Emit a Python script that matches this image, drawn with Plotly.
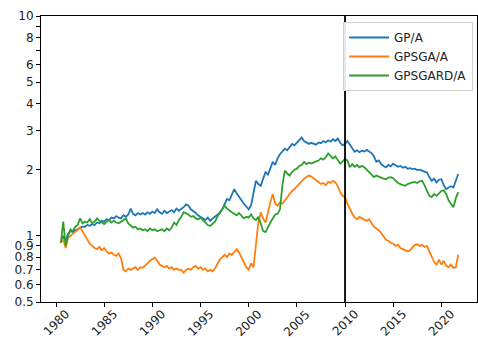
import numpy as np
import plotly.graph_objects as go

# Quarterly observations, 1980Q3 .. 2021Q4 (decimal years)
quarters = np.arange(1980.5, 2021.76, 0.25)

gp_a = [
    0.93, 1.00,
    0.95, 1.02, 1.05, 1.04,
    1.06, 1.07, 1.09, 1.10,
    1.10, 1.12, 1.11, 1.13,
    1.12, 1.15, 1.14, 1.17,
    1.16, 1.19, 1.18, 1.21,
    1.20, 1.23, 1.21, 1.20,
    1.24, 1.22, 1.25, 1.33,
    1.26, 1.24, 1.27, 1.25,
    1.27, 1.25, 1.28, 1.26,
    1.29, 1.27, 1.32, 1.28,
    1.26, 1.30, 1.27, 1.29,
    1.31, 1.28, 1.33, 1.30,
    1.32, 1.35, 1.39, 1.37,
    1.32, 1.30, 1.27, 1.24,
    1.22, 1.20, 1.18, 1.21,
    1.17, 1.20, 1.22, 1.25,
    1.27, 1.32, 1.40, 1.47,
    1.45, 1.55, 1.63, 1.56,
    1.50, 1.44, 1.40, 1.36,
    1.32, 1.38, 1.55, 1.78,
    1.72, 1.69, 1.82, 1.95,
    1.90, 2.05, 2.17, 2.10,
    2.25, 2.35, 2.42, 2.49,
    2.45, 2.55, 2.62, 2.58,
    2.65, 2.72, 2.80, 2.70,
    2.66, 2.62, 2.65, 2.63,
    2.60, 2.66, 2.64, 2.70,
    2.66, 2.72, 2.68, 2.75,
    2.70, 2.77, 2.65, 2.58,
    2.62, 2.70, 2.60, 2.50,
    2.41, 2.45, 2.40, 2.44,
    2.42, 2.46, 2.41, 2.38,
    2.30, 2.17, 2.20, 2.12,
    2.08, 2.05, 2.10, 2.07,
    2.13, 2.09, 2.06, 2.08,
    2.04, 2.06, 2.02, 2.03,
    2.01, 2.02, 1.99, 2.00,
    1.98, 1.96, 1.94, 1.85,
    1.78, 1.82, 1.75, 1.80,
    1.81, 1.70, 1.63, 1.66,
    1.68, 1.66, 1.78, 1.91,
]

gpsga_a = [
    0.93, 0.97,
    0.88, 0.98, 1.00, 1.02,
    1.04, 1.07, 1.09, 1.05,
    1.00, 0.95, 0.92, 0.90,
    0.88, 0.87, 0.89, 0.86,
    0.88, 0.85, 0.83, 0.84,
    0.82, 0.81, 0.83, 0.79,
    0.70, 0.69, 0.71, 0.70,
    0.71, 0.72, 0.70, 0.72,
    0.715, 0.73, 0.75, 0.77,
    0.78, 0.795, 0.77, 0.74,
    0.73, 0.72, 0.73, 0.71,
    0.72, 0.70, 0.71, 0.70,
    0.70, 0.68, 0.70, 0.71,
    0.70, 0.72, 0.73, 0.71,
    0.72, 0.70, 0.71, 0.69,
    0.70, 0.69, 0.71, 0.75,
    0.78, 0.80, 0.82, 0.80,
    0.83, 0.82, 0.85, 0.87,
    0.84, 0.80, 0.76, 0.72,
    0.70, 0.75, 0.72, 0.90,
    1.15, 1.28, 1.20, 1.15,
    1.30, 1.42, 1.55, 1.40,
    1.37, 1.42, 1.40, 1.45,
    1.50, 1.55, 1.60, 1.63,
    1.68, 1.72, 1.78, 1.82,
    1.85, 1.88, 1.86, 1.82,
    1.78, 1.75, 1.72, 1.74,
    1.70, 1.76, 1.74, 1.78,
    1.75, 1.68, 1.58, 1.52,
    1.50, 1.40, 1.32, 1.26,
    1.21, 1.19, 1.22, 1.20,
    1.18, 1.17, 1.19, 1.14,
    1.10, 1.08, 1.06, 1.03,
    1.00, 0.96, 0.95, 0.93,
    0.92, 0.90, 0.91, 0.88,
    0.87, 0.86, 0.85, 0.86,
    0.88, 0.91, 0.915, 0.90,
    0.91, 0.89, 0.90, 0.85,
    0.80, 0.76, 0.74, 0.78,
    0.74, 0.77, 0.73, 0.72,
    0.74, 0.715, 0.72, 0.82,
]

gpsgard_a = [
    0.93, 1.16,
    0.90, 1.00, 1.07, 1.05,
    1.10, 1.12, 1.20, 1.14,
    1.16, 1.15, 1.19, 1.14,
    1.16, 1.20, 1.17, 1.15,
    1.13, 1.16, 1.18, 1.15,
    1.17, 1.15, 1.14, 1.16,
    1.18, 1.20, 1.14, 1.11,
    1.09, 1.10, 1.07, 1.08,
    1.06, 1.07, 1.05, 1.08,
    1.06, 1.07, 1.05, 1.06,
    1.07, 1.05, 1.08, 1.06,
    1.09, 1.15, 1.12, 1.18,
    1.22, 1.28, 1.27, 1.25,
    1.22, 1.23, 1.20, 1.19,
    1.21, 1.18, 1.15, 1.12,
    1.11, 1.13, 1.16, 1.22,
    1.28, 1.32, 1.37, 1.33,
    1.30, 1.28, 1.26, 1.24,
    1.27, 1.23, 1.20, 1.22,
    1.21, 1.25, 1.20, 1.18,
    1.22, 1.14, 1.05, 1.04,
    1.10, 1.15, 1.20, 1.25,
    1.26, 1.32, 1.70, 1.98,
    1.92, 1.88, 1.95, 2.00,
    2.02, 2.08, 2.10, 2.17,
    2.12, 2.15, 2.13, 2.16,
    2.18, 2.20, 2.25, 2.22,
    2.28, 2.37, 2.30, 2.25,
    2.30, 2.20, 2.13, 2.18,
    2.24, 2.20, 2.05, 2.12,
    2.06, 2.10, 2.05, 2.08,
    2.05, 2.00, 1.95, 1.90,
    1.85, 1.88, 1.86, 1.83,
    1.82, 1.81, 1.84, 1.85,
    1.83, 1.78, 1.74, 1.72,
    1.70, 1.69, 1.72, 1.74,
    1.75, 1.76, 1.74, 1.77,
    1.78, 1.70, 1.60, 1.52,
    1.50, 1.55, 1.52, 1.56,
    1.60, 1.61, 1.55, 1.45,
    1.40, 1.35, 1.48, 1.58,
]

series_names = ["GP/A", "GPSGA/A", "GPSGARD/A"]
series_colors = ["#1f77b4", "#ff7f0e", "#2ca02c"]
event_year = 2010

x_ticks = [1980, 1985, 1990, 1995, 2000, 2005, 2010, 2015, 2020]
y_ticks = [0.5, 0.6, 0.7, 0.8, 0.9, 1, 2, 3, 4, 5, 6, 7, 8, 9, 10]
y_tick_text = ["0.5", "0.6", "0.7", "0.8", "0.9", "1", "2", "3", "4", "5", "6", "", "8", "", "10"]

font_family = "DejaVu Sans"
text_color = "#222"

fig = go.Figure()
for name, color, values in zip(series_names, series_colors,
                               [gp_a, gpsga_a, gpsgard_a]):
    fig.add_trace(go.Scatter(
        x=quarters, y=values, mode="lines", name=name,
        line=dict(color=color, width=1.8),
    ))

# Marker for the reference year
fig.add_shape(type="line", xref="x", yref="paper",
              x0=event_year, x1=event_year, y0=0, y1=1,
              line=dict(color="black", width=1.8))

# Rotated year labels centred under each tick
for yr in x_ticks:
    fig.add_annotation(x=yr, xref="x", y=-0.072, yref="paper",
                       text=str(yr), textangle=-45, showarrow=False,
                       xanchor="center", yanchor="middle",
                       font=dict(family=font_family, size=12, color=text_color))

fig.update_layout(
    width=478, height=340,
    margin=dict(l=41, r=1, t=16, b=38),
    plot_bgcolor="white", paper_bgcolor="white",
    font=dict(family=font_family, size=12, color=text_color),
    showlegend=True,
    legend=dict(x=0.991, y=0.979, xanchor="right", yanchor="top",
                bgcolor="rgba(255,255,255,0.9)", bordercolor="#d0d0d0",
                borderwidth=1, font=dict(family=font_family, size=12, color=text_color),
                tracegroupgap=0, itemwidth=40),
)
fig.update_xaxes(
    range=[1978.44, 2023.7], tickvals=x_ticks, showticklabels=False,
    ticks="outside", ticklen=4, tickcolor="black",
    showline=True, linecolor="black", linewidth=1, mirror=True,
    showgrid=False, zeroline=False,
)
fig.update_yaxes(
    type="log", range=[np.log10(0.5), 1],
    tickvals=y_ticks, ticktext=y_tick_text,
    ticks="outside", ticklen=4, tickcolor="black",
    showline=True, linecolor="black", linewidth=1, mirror=True,
    showgrid=False, zeroline=False,
)

fig.write_html("out.html")
